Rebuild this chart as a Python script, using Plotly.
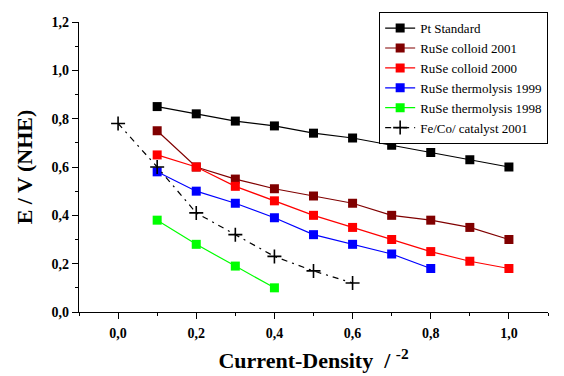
import plotly.graph_objects as go

# Current density values (x) and electrode potential E / V vs NHE (y)
x_full = [0.1, 0.2, 0.3, 0.4, 0.5, 0.6, 0.7, 0.8, 0.9, 1.0]
pt_standard = [0.85, 0.82, 0.79, 0.77, 0.74, 0.72, 0.69, 0.66, 0.63, 0.60]
ruse_colloid_2001 = [0.75, 0.60, 0.55, 0.51, 0.48, 0.45, 0.40, 0.38, 0.35, 0.30]
ruse_colloid_2000 = [0.65, 0.60, 0.52, 0.46, 0.40, 0.35, 0.30, 0.25, 0.21, 0.18]

x_thermo_1999 = [0.1, 0.2, 0.3, 0.4, 0.5, 0.6, 0.7, 0.8]
ruse_thermo_1999 = [0.58, 0.50, 0.45, 0.39, 0.32, 0.28, 0.24, 0.18]

x_thermo_1998 = [0.1, 0.2, 0.3, 0.4]
ruse_thermo_1998 = [0.38, 0.28, 0.19, 0.10]

x_feco = [0.0, 0.1, 0.2, 0.3, 0.4, 0.5, 0.6]
feco_2001 = [0.78, 0.60, 0.41, 0.32, 0.23, 0.17, 0.12]

x_ticks = [0.0, 0.2, 0.4, 0.6, 0.8, 1.0]
y_ticks = [0.0, 0.2, 0.4, 0.6, 0.8, 1.0, 1.2]

SERIF = "Times New Roman"

fig = go.Figure()

square_series = [
    ("Pt Standard", x_full, pt_standard, "#000000"),
    ("RuSe colloid 2001", x_full, ruse_colloid_2001, "#800000"),
    ("RuSe colloid 2000", x_full, ruse_colloid_2000, "#ff0000"),
    ("RuSe thermolysis 1999", x_thermo_1999, ruse_thermo_1999, "#0000ff"),
    ("RuSe thermolysis 1998", x_thermo_1998, ruse_thermo_1998, "#00ff00"),
]
for name, xs, ys, color in square_series:
    fig.add_trace(go.Scatter(
        x=xs, y=ys, name=name, mode="lines+markers",
        line=dict(color=color, width=1.2),
        marker=dict(symbol="square", size=9, color=color),
    ))

fig.add_trace(go.Scatter(
    x=x_feco, y=feco_2001, name="Fe/Co/ catalyst 2001", mode="lines+markers",
    line=dict(color="#000000", width=1.2, dash="6px,5px,2px,5px"),
    marker=dict(symbol="cross-thin", size=10, line=dict(color="#000000", width=1.6)),
))

tick_font = dict(family=SERIF, size=14, color="#000000", weight="bold")

fig.update_layout(
    width=564, height=376,
    margin=dict(l=79, r=16, t=22, b=64, autoexpand=False),
    paper_bgcolor="white", plot_bgcolor="white",
    separators=",.",
    font=dict(family=SERIF, color="#000000"),
    showlegend=True,
    legend=dict(
        x=0.64, y=1.034, xanchor="left", yanchor="top",
        bgcolor="white", bordercolor="#000000", borderwidth=1,
        font=dict(family=SERIF, size=13, color="#000000"),
        tracegroupgap=0, itemwidth=30,
    ),
    xaxis=dict(
        range=[-0.1, 1.1], tickvals=x_ticks, tickformat=".1f",
        ticks="outside", ticklen=6, tickwidth=1, tickcolor="#000000",
        minor=dict(dtick=0.1, tick0=0, ticks="outside", ticklen=3, tickcolor="#000000"),
        showline=True, linecolor="#000000", linewidth=1.2,
        showgrid=False, zeroline=False, tickfont=tick_font,
        ticklabelstandoff=2,
        title=dict(text="Current-Density  / <sup>-2</sup>",
                   font=dict(family=SERIF, size=22, weight="bold"), standoff=12),
    ),
    yaxis=dict(
        range=[0, 1.2], tickvals=y_ticks, tickformat=".1f",
        ticks="outside", ticklen=6, tickwidth=1, tickcolor="#000000",
        minor=dict(dtick=0.1, tick0=0, ticks="outside", ticklen=3, tickcolor="#000000"),
        showline=True, linecolor="#000000", linewidth=1.2,
        showgrid=False, zeroline=False, tickfont=tick_font,
        title=dict(text="E / V (NHE)",
                   font=dict(family=SERIF, size=22, weight="bold"), standoff=12),
    ),
    # Frame on top and right with inward ticks
    xaxis2=dict(
        overlaying="x", side="top", range=[-0.1, 1.1], dtick=0.1, tick0=0,
        ticks="inside", ticklen=5, tickcolor="#000000", showticklabels=False,
        showline=True, linecolor="#000000", linewidth=1.2,
        showgrid=False, zeroline=False,
    ),
    yaxis2=dict(
        overlaying="y", side="right", range=[0, 1.2], dtick=0.1, tick0=0,
        ticks="inside", ticklen=5, tickcolor="#000000", showticklabels=False,
        showline=True, linecolor="#000000", linewidth=1.2,
        showgrid=False, zeroline=False,
    ),
)

fig.write_html("out.html")
